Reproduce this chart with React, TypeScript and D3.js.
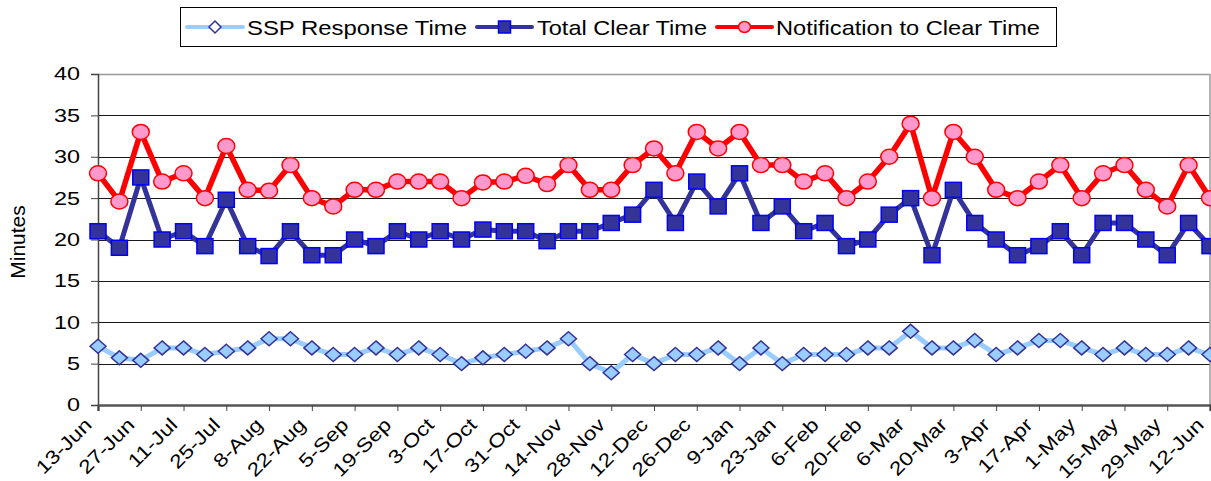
import React, { useEffect, useRef } from "react";
import * as d3 from "d3";

// weekly dates, one point per week
const categories = [
  "13-Jun", "20-Jun", "27-Jun", "4-Jul", "11-Jul", "18-Jul", "25-Jul", "1-Aug", "8-Aug",
  "15-Aug", "22-Aug", "29-Aug", "5-Sep", "12-Sep", "19-Sep", "26-Sep", "3-Oct", "10-Oct",
  "17-Oct", "24-Oct", "31-Oct", "7-Nov", "14-Nov", "21-Nov", "28-Nov", "5-Dec", "12-Dec",
  "19-Dec", "26-Dec", "2-Jan", "9-Jan", "16-Jan", "23-Jan", "30-Jan", "6-Feb", "13-Feb",
  "20-Feb", "27-Feb", "6-Mar", "13-Mar", "20-Mar", "27-Mar", "3-Apr", "10-Apr", "17-Apr",
  "24-Apr", "1-May", "8-May", "15-May", "22-May", "29-May", "5-Jun", "12-Jun",
];

const sspResponse = [
  7.1, 5.7, 5.4, 6.9, 6.9, 6.1, 6.5, 6.9, 8, 8, 6.9, 6.1, 6.1, 6.9,
  6.1, 6.9, 6.1, 5, 5.7, 6.1, 6.5, 6.9, 8, 5, 3.9, 6.1, 5, 6.1,
  6.1, 6.9, 5, 6.9, 5, 6.1, 6.1, 6.1, 6.9, 6.9, 8.9,
  6.9, 6.9, 7.8, 6.1, 6.9, 7.8, 7.8, 6.9, 6.1, 6.9, 6.1, 6.1, 6.9, 6.1,
];

const totalClear = [
  21, 19, 27.5, 20, 21, 19.2, 24.8, 19.2, 18, 21, 18.1, 18.1, 20, 19.2,
  21, 20, 21, 20, 21.2, 21, 21, 19.8, 21, 21, 22, 23, 26, 22,
  27, 24, 28, 22, 24, 21, 22, 19.2, 20, 23, 25,
  18.1, 26, 22, 20, 18.1, 19.2, 21, 18.1, 22, 22, 20, 18.1, 22, 19.2,
];

const notifyClear = [
  28, 24.6, 33, 27, 28, 25, 31.3, 26, 25.9, 29, 25, 24, 26, 26,
  27, 27, 27, 25, 26.9, 27, 27.7, 26.7, 29, 26, 26, 29, 31, 28,
  33, 31, 33, 29, 29, 27, 28, 25, 27, 30, 34,
  25, 33, 30, 26, 25, 27, 29, 25, 28, 29, 26, 24, 29, 25,
];

const yTicks = [0, 5, 10, 15, 20, 25, 30, 35, 40];
const seriesNames = ["SSP Response Time", "Total Clear Time", "Notification to Clear Time"];

const FONT = "'Liberation Sans', Arial, sans-serif";

const Chart = ({ width, height }) => {
  const svgRef = useRef(null);

  useEffect(() => {
    const svg = d3.select(svgRef.current);
    svg.selectAll("*").remove();

    const left = 98;
    const right = 1210;
    const top = 74;
    const bottom = 405;

    const x = d3.scalePoint().domain(categories).range([left, right]);
    const y = d3.scaleLinear().domain([0, 40]).range([bottom, top]);

    // gridlines
    svg
      .append("g")
      .selectAll("line")
      .data(yTicks.filter((t) => t > 0 && t < 40))
      .enter()
      .append("line")
      .attr("x1", left)
      .attr("x2", right)
      .attr("y1", (d) => Math.round(y(d)) + 0.5)
      .attr("y2", (d) => Math.round(y(d)) + 0.5)
      .style("stroke", "#1a1a1a")
      .style("stroke-width", 1);

    // frame top + right (grey)
    svg
      .append("path")
      .attr("d", `M${left},${Math.round(y(40)) + 0.5}H${right}V${bottom}`)
      .style("fill", "none")
      .style("stroke", "#999")
      .style("stroke-width", 1.5);

    // y axis
    const yAxis = d3.axisLeft(y).tickValues(yTicks).tickSize(7).tickFormat(() => "");
    const gy = svg.append("g").attr("transform", `translate(${left},0)`).call(yAxis);
    gy.select(".domain").style("stroke", "#444").style("stroke-width", 1.5);
    gy.selectAll(".tick line").style("stroke", "#444");

    svg
      .append("g")
      .selectAll("text")
      .data(yTicks)
      .enter()
      .append("text")
      .attr("transform", (d) => `translate(80,${y(d)}) scale(1.3,1)`)
      .attr("dy", "0.36em")
      .attr("text-anchor", "end")
      .style("font-family", FONT)
      .style("font-size", "18px")
      .style("fill", "#000")
      .text((d) => d);

    svg
      .append("text")
      .attr("transform", `translate(25,242) rotate(-90)`)
      .attr("text-anchor", "middle")
      .style("font-family", FONT)
      .style("font-size", "21px")
      .text("Minutes");

    // x axis
    const xTicks = categories.filter((d, i) => i % 2 === 0);
    const xAxis = d3.axisBottom(x).tickValues(xTicks).tickSize(6).tickFormat(() => "");
    const gx = svg.append("g").attr("transform", `translate(0,${bottom})`).call(xAxis);
    gx.select(".domain").style("stroke", "#555").style("stroke-width", 2.5);
    gx.selectAll(".tick line").style("stroke", "#444");

    svg
      .append("g")
      .selectAll("text")
      .data(xTicks)
      .enter()
      .append("text")
      .attr("transform", (d) => `translate(${x(d) - 5},${bottom + 21}) rotate(-45) scale(1.2,1)`)
      .attr("text-anchor", "end")
      .style("font-family", FONT)
      .style("font-size", "19px")
      .text((d) => d);

    // series lines
    const line = (vals) =>
      d3
        .line()
        .x((d, i) => x(categories[i]))
        .y((d) => y(d))(vals);

    // SSP Response Time
    svg
      .append("path")
      .attr("d", line(sspResponse))
      .style("fill", "none")
      .style("stroke", "#99CCFF")
      .style("stroke-width", 5)
      .style("stroke-linejoin", "round");
    svg
      .append("g")
      .selectAll("path")
      .data(sspResponse)
      .enter()
      .append("path")
      .attr("d", "M0,-7L8,0L0,7L-8,0Z")
      .attr("transform", (d, i) => `translate(${x(categories[i])},${y(d)})`)
      .style("fill", "#99CCFF")
      .style("stroke", "#333399")
      .style("stroke-width", 1.5);

    // Total Clear Time
    svg
      .append("path")
      .attr("d", line(totalClear))
      .style("fill", "none")
      .style("stroke", "#333399")
      .style("stroke-width", 5)
      .style("stroke-linejoin", "round");
    svg
      .append("g")
      .selectAll("rect")
      .data(totalClear)
      .enter()
      .append("rect")
      .attr("x", (d, i) => x(categories[i]) - 8)
      .attr("y", (d) => y(d) - 7.5)
      .attr("width", 16)
      .attr("height", 15)
      .style("fill", "#333399")
      .style("stroke", "#0000FF")
      .style("stroke-width", 1.5);

    // Notification to Clear Time
    svg
      .append("path")
      .attr("d", line(notifyClear))
      .style("fill", "none")
      .style("stroke", "#FF0000")
      .style("stroke-width", 5.5)
      .style("stroke-linejoin", "round");
    svg
      .append("g")
      .selectAll("ellipse")
      .data(notifyClear)
      .enter()
      .append("ellipse")
      .attr("cx", (d, i) => x(categories[i]))
      .attr("cy", (d) => y(d))
      .attr("rx", 8.5)
      .attr("ry", 7.5)
      .style("fill", "#FF99CC")
      .style("stroke", "#FF0000")
      .style("stroke-width", 1.5);

    // legend
    const lg = svg.append("g");
    lg.append("rect")
      .attr("x", 180.5)
      .attr("y", 7.5)
      .attr("width", 876)
      .attr("height", 39)
      .style("fill", "#fff")
      .style("stroke", "#000")
      .style("stroke-width", 1);

    const legendItems = [
      { name: seriesNames[0], x0: 187, x1: 243, tx: 247, tw: 220, color: "#99CCFF", mark: "diamond" },
      { name: seriesNames[1], x0: 477, x1: 532, tx: 537, tw: 170, color: "#333399", mark: "square" },
      { name: seriesNames[2], x0: 717, x1: 772, tx: 776, tw: 264, color: "#FF0000", mark: "circle" },
    ];
    const ly = 27;
    legendItems.forEach((it) => {
      const cx = (it.x0 + it.x1) / 2;
      lg.append("line")
        .attr("x1", it.x0)
        .attr("x2", it.x1)
        .attr("y1", ly)
        .attr("y2", ly)
        .style("stroke", it.color)
        .style("stroke-width", 4)
        .style("stroke-linecap", "round");
      if (it.mark === "diamond") {
        lg.append("path")
          .attr("d", "M0,-6L6,0L0,6L-6,0Z")
          .attr("transform", `translate(${cx},${ly})`)
          .style("fill", "#fff")
          .style("stroke", "#333399")
          .style("stroke-width", 1.5);
      } else if (it.mark === "square") {
        lg.append("rect")
          .attr("x", cx - 6)
          .attr("y", ly - 6)
          .attr("width", 12)
          .attr("height", 12)
          .style("fill", "#333399")
          .style("stroke", "#0000FF")
          .style("stroke-width", 1.5);
      } else {
        lg.append("ellipse")
          .attr("cx", cx)
          .attr("cy", ly)
          .attr("rx", 6)
          .attr("ry", 5.5)
          .style("fill", "#FF99CC")
          .style("stroke", "#FF0000")
          .style("stroke-width", 1.5);
      }
      lg.append("text")
        .attr("x", it.tx)
        .attr("y", ly + 7.5)
        .attr("textLength", it.tw)
        .attr("lengthAdjust", "spacingAndGlyphs")
        .style("font-family", FONT)
        .style("font-size", "21px")
        .text(it.name);
    });
  }, [width, height]);

  return <svg ref={svgRef} width={width} height={height} style={{ display: "block" }}></svg>;
};

export default function App() {
  return (
    <div style={{ position: "absolute", left: 0, top: 0, background: "#fff" }}>
      <Chart width={1211} height={481} />
    </div>
  );
}
